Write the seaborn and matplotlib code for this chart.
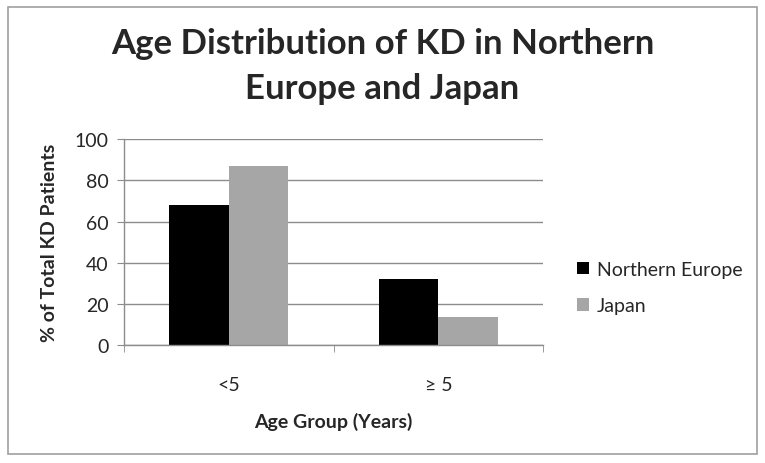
import pandas as pd
import seaborn as sns
import matplotlib.pyplot as plt
from matplotlib.patches import Rectangle

age_groups = ['<5', '≥ 5']
northern_europe = [68, 32]
japan = [87, 13.5]
series_names = ['Northern Europe', 'Japan']
colors = ['#000000', '#a6a6a6']

df = pd.DataFrame({
    'age': age_groups * 2,
    'pct': northern_europe + japan,
    'region': [series_names[0]] * 2 + [series_names[1]] * 2,
})

sns.set_style('white')
plt.rcParams['font.family'] = ['Lato', 'DejaVu Sans']

fig = plt.figure(figsize=(7.65, 4.64), dpi=100)
ax = fig.add_axes([0.162, 0.254, 0.548, 0.444])

sns.barplot(data=df, x='age', y='pct', hue='region', palette=colors,
            width=0.57, ax=ax, saturation=1, linewidth=0)

ax.set_ylim(0, 100)
ax.set_yticks(range(0, 101, 20))
ax.set_xlim(-0.5, 1.5)
ax.yaxis.grid(True, color='#8c8c8c', linewidth=1)
ax.set_axisbelow(True)
for s in ['top', 'right']:
    ax.spines[s].set_visible(False)
for s in ['left', 'bottom']:
    ax.spines[s].set_color('#8c8c8c')
    ax.spines[s].set_linewidth(1)

ax.tick_params(axis='y', length=5, color='#8c8c8c', labelsize=14, pad=6, left=True)
ax.tick_params(axis='x', which='major', length=0, labelsize=14, pad=22)
ax.set_xticks([-0.5, 0.5, 1.5], minor=True)
ax.tick_params(axis='x', which='minor', length=5, color='#8c8c8c', bottom=True)

ax.set_xlabel('Age Group (Years)', fontsize=14, fontweight='bold', labelpad=14)
ax.set_ylabel('% of Total KD Patients', fontsize=14, fontweight='bold', labelpad=12)

fig.suptitle('Age Distribution of KD in Northern\nEurope and Japan', fontsize=25,
             fontweight='bold', y=0.94, linespacing=1.5)

ax.legend(loc='center left', bbox_to_anchor=(1.04, 0.28), frameon=False,
          fontsize=14, handlelength=0.6, handleheight=0.6, handletextpad=0.4,
          labelspacing=1.0)

fig.patches.append(Rectangle((0.011, 0.019), 0.978, 0.963, transform=fig.transFigure,
                             fill=False, edgecolor='#a0a0a0', linewidth=1.2))

fig.savefig('out.png', dpi=100)
